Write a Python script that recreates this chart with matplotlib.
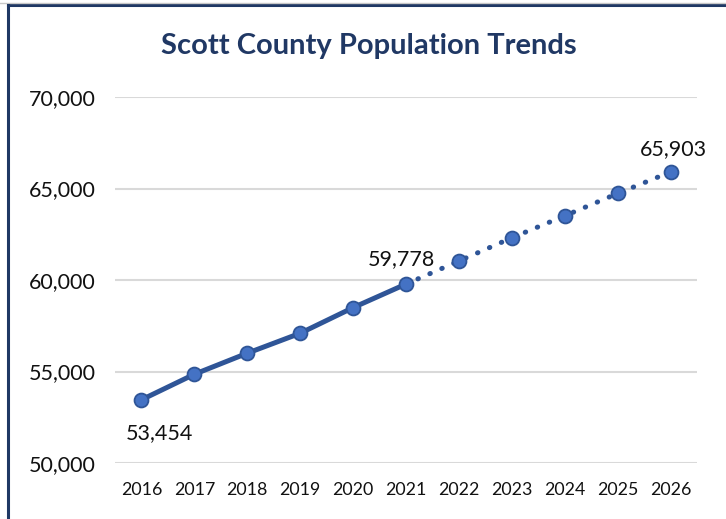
import matplotlib
matplotlib.use("Agg")
import matplotlib.pyplot as plt
from matplotlib.lines import Line2D
from matplotlib.ticker import FuncFormatter

years = ["2016", "2017", "2018", "2019", "2020", "2021", "2022", "2023", "2024", "2025", "2026"]
actual = [53454, 54850, 56000, 57090, 58490, 59778]
forecast = [59778, 61036, 62306, 63506, 64727, 65903]
labels = {0: "53,454", 5: "59,778", 10: "65,903"}
yticks = [50000, 55000, 60000, 65000, 70000]

plt.rcParams['font.family'] = ['Lato', 'DejaVu Sans']

fig = plt.figure(figsize=(7.26, 5.19), dpi=100)
ax = fig.add_axes([115/726, 1-463/519, (697-115)/726, (463-97)/519])

xa = list(range(len(actual)))
xf = list(range(len(actual)-1, len(actual)-1+len(forecast)))

line_c = "#2F5597"
fill_c = "#4472C4"

ax.plot(xf, forecast, color=line_c, lw=3.6, linestyle=(0, (0.1, 2.5)),
        dash_capstyle='round', zorder=2)
ax.plot(xa, actual, color=line_c, lw=3.6, solid_capstyle='round', zorder=3)
ax.plot(xa, actual, ls='none', marker='o', ms=10, mfc=fill_c, mec=line_c, mew=1.3, zorder=4)
ax.plot(xf[1:], forecast[1:], ls='none', marker='o', ms=10, mfc=fill_c, mec=line_c, mew=1.3, zorder=4)

allv = actual + forecast[1:]
offsets = {0: (18, -33), 5: (-5, 25), 10: (3, 23)}
for i, txt in labels.items():
    ax.annotate(txt, (i, allv[i]), xytext=offsets[i], textcoords='offset pixels',
                ha='center', va='center', fontsize=15.5, color='#111111')

ax.set_xlim(-0.5, len(years)-0.5)
ax.set_ylim(50000, 70000)
ax.set_yticks(yticks)
ax.yaxis.set_major_formatter(FuncFormatter(lambda v, p: f"{int(v):,}"))
ax.set_xticks(range(len(years)))
ax.set_xticklabels(years)
ax.tick_params(axis='y', length=0, labelsize=15.5, pad=14, labelcolor='#111111')
ax.tick_params(axis='x', length=0, labelsize=12.8, pad=14, labelcolor='#111111')
ax.grid(axis='y', color='#D9D9D9', lw=1.5)
ax.set_axisbelow(True)
for s in ax.spines.values():
    s.set_visible(False)

fig.text(369/726, 1-46/519, "Scott County Population Trends", ha='center', va='center',
         fontsize=21, fontweight='bold', color='#203864')

# frame
border = "#1F3864"
fig.add_artist(Line2D([8/726, 1], [1-5/519, 1-5/519], transform=fig.transFigure, color=border, lw=2.2))
fig.add_artist(Line2D([0, 1], [1-2.5/519, 1-2.5/519], transform=fig.transFigure, color='#C8C8C8', lw=1))
fig.add_artist(Line2D([8/726, 8/726], [0, 1-5/519], transform=fig.transFigure, color=border, lw=2.2))

fig.savefig("out.png", dpi=100)
